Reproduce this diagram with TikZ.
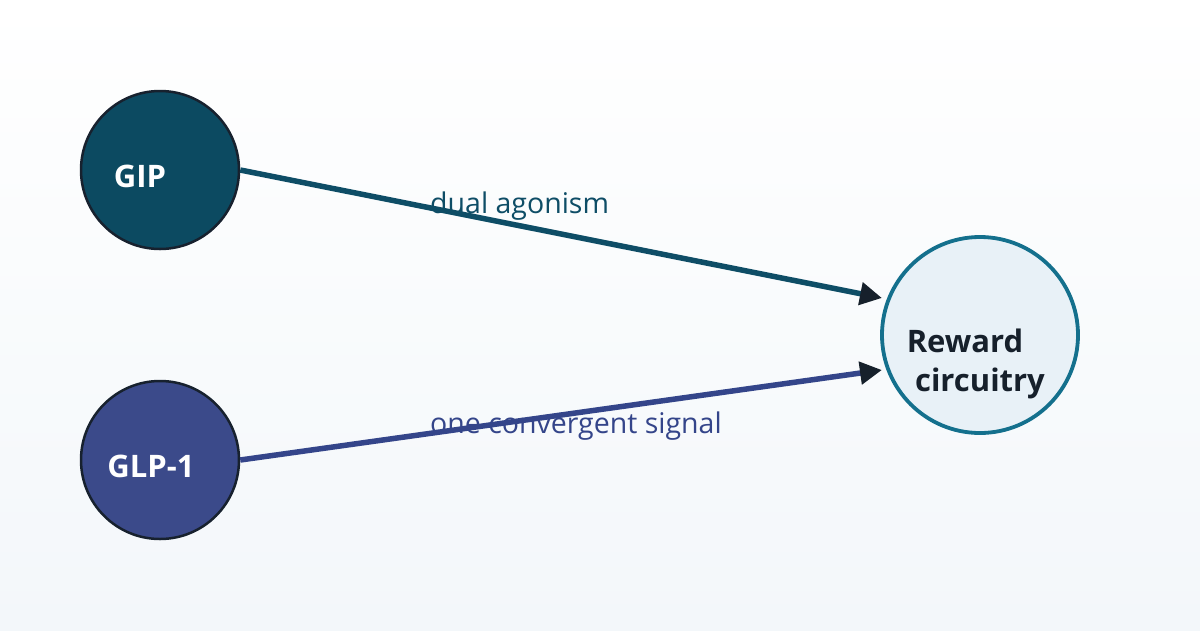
\documentclass[tikz,border=0pt]{standalone}
\usepackage{fontspec}
\setmainfont{Open Sans}
\usetikzlibrary{arrows.meta}
\definecolor{bgtop}{HTML}{FFFFFF}
\definecolor{bgbot}{HTML}{F3F7FA}
\definecolor{gipc}{HTML}{0C4A61}
\definecolor{glpc}{HTML}{3B4A8A}
\definecolor{ringc}{HTML}{17212E}
\definecolor{rewfill}{HTML}{E8F1F7}
\definecolor{rewring}{HTML}{14708D}
\definecolor{darktxt}{HTML}{16202B}
\definecolor{edgea}{HTML}{0E4D66}
\definecolor{edgeb}{HTML}{34458A}
\tikzset{
  srcnode/.style={circle, minimum size=158pt, inner sep=0pt, draw=ringc, line width=2.5pt},
  tgtnode/.style={circle, minimum size=196pt, inner sep=0pt, draw=rewring, line width=3.8pt,
    fill=rewfill},
  boldtxt/.style={font=\fontsize{31}{36}\selectfont\bfseries, inner sep=0pt},
  conn/.style={line width=5.5pt, -{Triangle[length=22pt,width=22pt,color=darktxt]}},
  elabel/.style={font=\fontsize{28.5}{33}\selectfont, anchor=west, inner sep=0pt}
}
\begin{document}
\begin{tikzpicture}[x=1pt,y=-1pt]
\shade[top color=bgtop, bottom color=bgbot] (0,0) rectangle (1200,630);
\useasboundingbox (0,0) rectangle (1200,630);
\node[srcnode, fill=gipc] (gip) at (160,170) {};
\node[srcnode, fill=glpc] (glp) at (160,460) {};
\node[tgtnode] (rew) at (980,335) {};
\node[boldtxt, text=white] (giptxt) at (140,176) {GIP};
\node[boldtxt, text=white] (glptxt) at (151,466) {GLP-1};
\node[boldtxt, text=darktxt] (rewtxt1) at (965,341) {Reward};
\node[boldtxt, text=darktxt] (rewtxt2) at (980,383) {circuitry};
\node[elabel, text=edgea] (la) at (430,206) {dual agonism};
\node[elabel, text=edgeb] (lb) at (430,426) {one convergent signal};
\coordinate (ta) at (882,298);
\coordinate (tb) at (882,370);
\draw[conn, edgea] (gip.east) -- (ta);
\draw[conn, edgeb] (glp.east) -- (tb);
\end{tikzpicture}
\end{document}
